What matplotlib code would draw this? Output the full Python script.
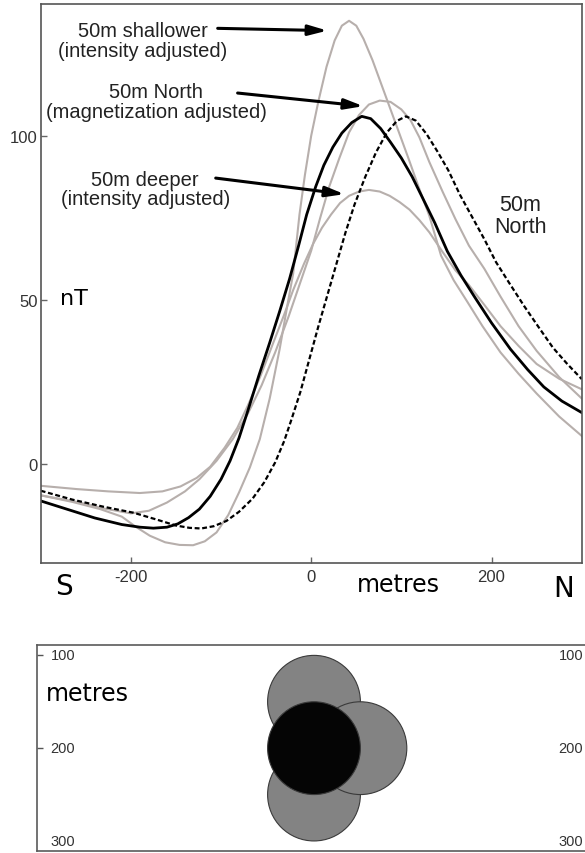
import matplotlib
matplotlib.use("Agg")
import matplotlib.pyplot as plt
from matplotlib.patches import Circle

# Profile positions (m, S -> N) and total-field anomaly (nT)
x_ref = [-300, -270, -240, -210, -190, -175, -160, -148, -136, -124, -112, -100, -90, -80,
         -70, -58, -46, -35, -24, -14, -5, 5, 14, 24, 34, 45, 56, 66, 77, 88, 100, 112,
         124, 137, 151, 166, 181, 200, 221, 240, 258, 278, 300]
nt_ref = [-11.2, -13.8, -16.4, -18.4, -19.2, -19.5, -19.2, -18.2, -16.3, -13.7, -9.8, -4.6, 1,
          8, 16.5, 27, 37, 46.5, 56.4, 66.5, 76, 84.5, 91, 96.5, 100.8, 104, 105.9, 105.2,
          102.2, 98, 93.2, 87.5, 80.8, 73.5, 64.8, 57.5, 51, 43, 35, 28.8, 23.5, 19.2, 15.7]

x_north = [-300, -265, -230, -197, -170, -150, -135, -122, -108, -94, -80, -65, -52, -40, -30,
           -22, -12, -2, 8, 18, 28, 38, 48, 60, 72, 84, 95, 105, 116, 128, 140, 152, 165,
           178, 192, 205, 220, 236, 252, 268, 284, 300]
nt_north = [-8.1, -10.8, -13, -14.8, -17, -18.7, -19.4, -19.6, -18.9, -17.3, -14.5, -10.5,
            -5.5, 0.5, 7, 13.5, 22, 32, 42, 51.5, 61, 70.5, 79, 87.5, 95, 101, 104.5, 105.9,
            104.6, 100.5, 95.2, 89.5, 82, 75.5, 68.5, 61.5, 55, 48.2, 41.8, 35.5, 30.5, 25.9]

x_shallow = [-300, -265, -234, -210, -195, -179, -162, -146, -131, -118, -105, -92, -80, -68,
             -57, -46, -35, -26, -20, -13, -7, 0, 8, 17, 26, 34, 42, 50, 58, 68, 78, 88, 98,
             108, 119, 131, 144, 158, 173, 190, 210, 230, 250, 275, 300]
nt_shallow = [-9.5, -11.5, -13.7, -16, -19, -21.8, -23.8, -24.6, -24.7, -23.5, -20.8, -15.5,
              -8.6, -1, 7.6, 20, 35, 49, 58, 76, 88, 100, 110.5, 121, 129, 133.5, 135, 133.5,
              129.5, 123, 115.5, 108, 100.5, 93, 84.5, 75.6, 63.5, 56, 49.5, 42, 34, 27.5,
              21.5, 14.5, 8.6]

x_north_mag = [-300, -260, -230, -200, -180, -160, -140, -124, -105, -87, -70, -55, -40, -25,
               -10, 0, 10, 20, 31, 42, 53, 64, 76, 88, 100, 110, 120, 131, 146, 160, 175,
               192, 210, 230, 250, 275, 300]
nt_north_mag = [-9.5, -11.5, -13.5, -15, -14.2, -11.7, -8.3, -4.6, 1, 7.6, 15.5, 24, 34, 45,
                57, 65, 75, 84.5, 93, 101, 106.3, 109.5, 110.7, 110.3, 108, 104.8, 99.5, 92,
                82.8, 74.6, 66.5, 59.5, 51, 42, 34.5, 26.5, 20]

x_deep = [-300, -260, -225, -190, -165, -145, -127, -112, -96, -82, -70, -56, -42, -30, -20,
          -8, 2, 12, 22, 32, 42, 53, 64, 76, 87, 98, 109, 120, 131, 146, 160, 175, 192, 210,
          230, 250, 275, 300]
nt_deep = [-6.6, -7.6, -8.3, -8.8, -8.3, -6.8, -4.2, -0.8, 5, 11, 18, 27, 37, 45.5, 53, 61,
           67, 72, 76, 79.5, 81.7, 83, 83.5, 83, 81.7, 79.8, 77.5, 74.3, 70.6, 64.5, 59,
           54.5, 48.5, 42, 36, 30.5, 26, 22.8]

# Cross-section: bodies (x, depth) in metres, radius 50 m
body_x = [0, 0, 50, 0]
body_depth = [150, 250, 200, 200]
body_fill = ["#838383", "#838383", "#838383", "#050505"]
body_radius = 50

nt_ticks = [0, 50, 100]
x_ticks = [-200, 0, 200]
depth_ticks = [100, 200, 300]

num_font = ["Liberation Sans", "DejaVu Sans"]
word_font = ["DejaVu Sans"]
grey = "#b7afac"

fig = plt.figure(figsize=(5.85, 8.54), dpi=100)
fig.patch.set_facecolor("white")

# ---- anomaly profiles ----
ax = fig.add_axes([40.7 / 585, 1 - 564.3 / 854, 541.0 / 585, 559.6 / 854])
ax.plot(x_shallow, nt_shallow, color=grey, lw=1.5)
ax.plot(x_north_mag, nt_north_mag, color=grey, lw=1.5)
ax.plot(x_deep, nt_deep, color=grey, lw=1.5)
ax.plot(x_north, nt_north, color="black", lw=1.6, ls=(0, (2.2, 1.2)))
ax.plot(x_ref, nt_ref, color="black", lw=2.0)

ax.set_xlim(-300, 300)
ax.set_ylim(-30.2, 140.2)
ax.set_xticks(x_ticks)
ax.set_yticks(nt_ticks)
ax.set_xticklabels([str(v) for v in x_ticks], family=num_font, fontsize=12, color="#333333")
ax.set_yticklabels([str(v) for v in nt_ticks], family=num_font, fontsize=12, color="#333333")
ax.tick_params(direction="in", length=4, width=1, color="#666666")
ax.tick_params(axis="x", pad=4)
ax.tick_params(axis="y", pad=2)
for sp in ax.spines.values():
    sp.set_color("#555555")
    sp.set_linewidth(1.2)

ax.text(-279, 48.7, "nT", family=word_font, fontsize=16, ha="left", va="baseline")
ax.text(-274, -39.6, "S", family=word_font, fontsize=20, ha="center", va="baseline", clip_on=False)
ax.text(280, -40.2, "N", family=word_font, fontsize=20, ha="center", va="baseline", clip_on=False)
ax.text(96.7, -38.7, "metres", family=word_font, fontsize=17, ha="center", va="baseline",
        clip_on=False)

ax.text(231.7, 75.8, "50m\nNorth", family=num_font, fontsize=15.5, ha="center", va="center",
        linespacing=1.05, color="#222222")

notes = [("50m shallower\n(intensity adjusted)", (-186.7, 129.0), (-103.7, 132.7), (18, 132)),
         ("50m North\n(magnetization adjusted)", (-172, 110.4), (-81.6, 113), (57.9, 109)),
         ("50m deeper\n(intensity adjusted)", (-184, 83.8), (-105.9, 87.1), (36.9, 82.2))]
for label, txt_xy, tail, tip in notes:
    ax.text(txt_xy[0], txt_xy[1], label, family=num_font, fontsize=14.5, ha="center",
            va="center", linespacing=1.05, color="#222222")
    ax.annotate("", xy=tip, xytext=tail,
                arrowprops=dict(arrowstyle="-|>,head_length=0.8,head_width=0.22",
                                mutation_scale=14, lw=2.2, color="black",
                                shrinkA=0, shrinkB=0))

# ---- cross-section ----
ax2 = fig.add_axes([36.7 / 585, 1 - 851.7 / 854, 548.3 / 585, 206.0 / 854])
for bx, bd, fc in zip(body_x, body_depth, body_fill):
    ax2.add_patch(Circle((bx, bd), body_radius, facecolor=fc, edgecolor="#3a3a3a", lw=0.8))
ax2.set_xlim(-298.8, 292)
ax2.set_ylim(310.5, 88.5)
ax2.set_xticks([])
ax2.set_yticks(depth_ticks[:2])
ax2.tick_params(axis="y", direction="in", length=4, width=1, color="#555555", labelleft=False)
ax2.spines["right"].set_visible(False)
for sp in ("left", "top", "bottom"):
    ax2.spines[sp].set_color("#5a5a5a")
    ax2.spines[sp].set_linewidth(1.2)

for d in depth_ticks:
    ax2.text(-284, d, str(d), family=num_font, fontsize=10.5, ha="left", va="center",
             color="#333333")
    ax2.text(0.997, d, str(d), transform=ax2.get_yaxis_transform(), family=num_font,
             fontsize=10.5, ha="right", va="center", color="#333333")
ax2.text(-289, 147.8, "metres", family=word_font, fontsize=17, ha="left", va="baseline")

fig.savefig("out.png", dpi=100, facecolor="white")
